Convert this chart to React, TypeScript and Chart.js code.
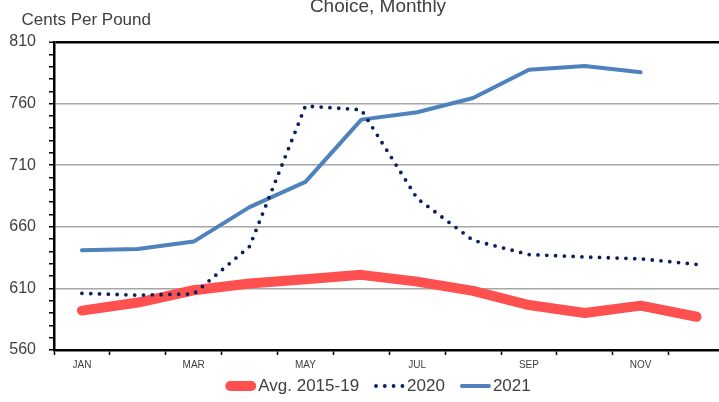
import React, { useEffect, useRef } from 'react';
import { Chart, registerables } from 'chart.js';

Chart.register(...registerables);

// ---- Data ----
const months = ['JAN', 'FEB', 'MAR', 'APR', 'MAY', 'JUN', 'JUL', 'AUG', 'SEP', 'OCT', 'NOV', 'DEC'];
const avg2015to19 = [592, 598.5, 608.5, 614, 617.5, 621, 615.5, 608, 596.5, 590, 596, 587];
const values2020 = [606, 604.5, 605.5, 644, 758, 755, 683, 649, 637.5, 635.5, 634, 629.5];
const values2021: (number | null)[] = [641, 642, 648, 676, 696.5, 747, 753, 764.5, 787.5, 790.5, 785.5, null];
const yTickLabels = [560, 610, 660, 710, 760, 810];
const seriesLabels = ['Avg. 2015-19', '2020', '2021'];
const yTitle = 'Cents Per Pound';
const chartSubtitle = 'Choice, Monthly';

const FONT = '"Liberation Sans", Arial, sans-serif';
const TEXT = '#404040';

const titlesPlugin = {
  id: 'titles',
  afterDraw(chart: any) {
    const { ctx } = chart;
    ctx.save();
    ctx.fillStyle = TEXT;
    ctx.textBaseline = 'alphabetic';
    ctx.font = `17px ${FONT}`;
    ctx.textAlign = 'left';
    ctx.fillText(yTitle, 21.5, 25);
    ctx.font = `19px ${FONT}`;
    ctx.textAlign = 'center';
    ctx.fillText(chartSubtitle, chart.width / 2, 12);
    ctx.restore();
  },
};

// Legend drawn with line samples, centered under the (full) chart width
const lineLegendPlugin = {
  id: 'lineLegend',
  afterDraw(chart: any) {
    const { ctx } = chart;
    const sample = 31;
    const textGap = 2;
    const itemGap = 15;
    const cy = 386;
    ctx.save();
    ctx.font = `17px ${FONT}`;
    const items = chart.data.datasets.map((ds: any) => ({
      ds,
      tw: ctx.measureText(ds.label).width,
    }));
    const total =
      items.reduce((s: number, it: any) => s + sample + textGap + it.tw, 0) + itemGap * (items.length - 1);
    let x = chart.width / 2 - total / 2;
    items.forEach((it: any) => {
      const lw = it.ds.borderWidth;
      ctx.beginPath();
      ctx.strokeStyle = it.ds.borderColor;
      ctx.lineWidth = lw;
      ctx.lineCap = it.ds.borderCapStyle || 'butt';
      ctx.setLineDash(it.ds.borderDash || []);
      ctx.moveTo(x + lw / 2, cy);
      ctx.lineTo(x + sample - lw / 2, cy);
      ctx.stroke();
      ctx.setLineDash([]);
      ctx.fillStyle = TEXT;
      ctx.textAlign = 'left';
      ctx.textBaseline = 'middle';
      ctx.fillText(it.ds.label, x + sample + textGap, cy);
      x += sample + textGap + it.tw + itemGap;
    });
    ctx.restore();
  },
};

export default function App() {
  const ref = useRef<HTMLCanvasElement>(null);

  useEffect(() => {
    if (!ref.current) return;
    const chart = new Chart(ref.current, {
      type: 'line',
      data: {
        labels: months,
        datasets: [
          {
            label: seriesLabels[0],
            data: avg2015to19,
            borderColor: '#ff5050',
            backgroundColor: '#ff5050',
            borderWidth: 10,
            borderCapStyle: 'round',
            borderJoinStyle: 'round',
            pointRadius: 0,
            tension: 0,
            order: 3,
          },
          {
            label: seriesLabels[1],
            data: values2020,
            borderColor: '#0b1f5c',
            backgroundColor: '#0b1f5c',
            borderWidth: 3.8,
            borderDash: [0, 8.8],
            borderCapStyle: 'round',
            pointRadius: 0,
            tension: 0,
            order: 1,
          },
          {
            label: seriesLabels[2],
            data: values2021,
            borderColor: '#4f81bd',
            backgroundColor: '#4f81bd',
            borderWidth: 4,
            borderCapStyle: 'round',
            borderJoinStyle: 'round',
            pointRadius: 0,
            tension: 0,
            spanGaps: false,
            order: 2,
          },
        ] as any,
      },
      plugins: [titlesPlugin, lineLegendPlugin],
      options: {
        animation: false,
        responsive: false,
        devicePixelRatio: 1,
        layout: { padding: { top: 42, left: 0, right: 0, bottom: 0 } },
        plugins: {
          tooltip: { enabled: false },
          title: { display: false },
          legend: { display: false },
        },
        scales: {
          x: {
            type: 'category',
            offset: true,
            grid: {
              offset: true,
              drawOnChartArea: false,
              drawTicks: true,
              tickLength: 5,
              tickColor: '#000',
              tickWidth: 1.5,
            },
            border: { display: true, color: '#000', width: 2.5 },
            ticks: {
              autoSkip: false,
              maxRotation: 0,
              padding: 4,
              color: TEXT,
              font: { size: 10, family: FONT },
              callback: (_v: any, i: number) => (i % 2 === 0 ? months[i] : ''),
            },
            afterFit: (s: any) => {
              s.height = 52;
            },
          },
          y: {
            type: 'linear',
            position: 'left',
            min: 560,
            max: 810,
            ticks: {
              stepSize: 10,
              autoSkip: false,
              padding: 13,
              color: TEXT,
              font: { size: 16, family: FONT },
              callback: (v: any) => (yTickLabels.includes(Number(v)) ? String(v) : ''),
            },
            grid: {
              drawTicks: true,
              tickLength: 5,
              tickColor: '#000',
              tickWidth: 1.5,
              color: (ctx: any) => {
                const v = ctx.tick ? ctx.tick.value : NaN;
                if (v === 810) return '#000';
                if (yTickLabels.includes(v)) return '#a6a6a6';
                return 'rgba(0,0,0,0)';
              },
              lineWidth: (ctx: any) => (ctx.tick && ctx.tick.value === 810 ? 2.5 : 1.5),
            },
            border: { display: true, color: '#000', width: 2.5 },
            afterFit: (s: any) => {
              s.width = 54;
            },
          },
          yR: {
            type: 'linear',
            position: 'right',
            display: true,
            grid: { display: false, drawTicks: false },
            ticks: { display: false },
            border: { display: false },
            afterFit: (s: any) => {
              s.width = 31.5;
            },
          },
        },
      } as any,
    });
    return () => chart.destroy();
  }, []);

  return (
    <div
      style={{
        position: 'fixed',
        left: 0,
        top: 0,
        width: 719,
        height: 402,
        overflow: 'hidden',
        background: '#fff',
      }}
    >
      <canvas ref={ref} width={756} height={402} style={{ display: 'block', width: 756, height: 402 }} />
    </div>
  );
}
